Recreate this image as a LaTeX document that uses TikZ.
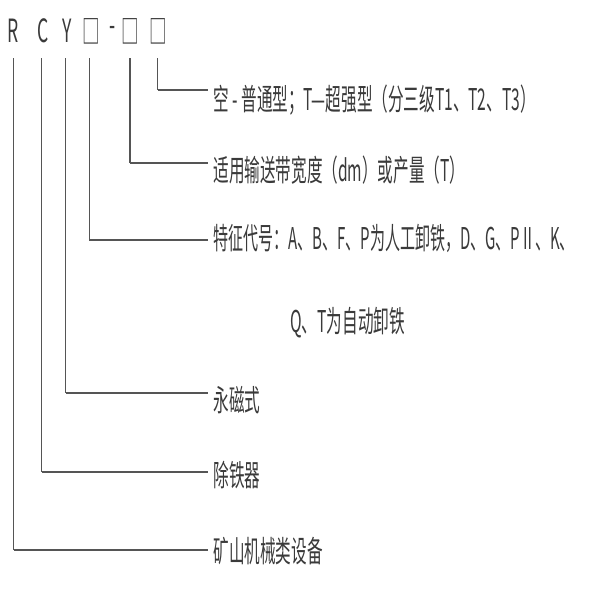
\documentclass[tikz,border=0pt]{standalone}
\usepackage{fontspec}
\newfontfamily\cjk{Noto Sans CJK SC}
\definecolor{txt}{HTML}{3A3A3A}
\definecolor{ln}{HTML}{555555}
\newcommand\sqz[2][0.52]{\scalebox{#1}[1]{#2}}
\begin{document}
\begin{tikzpicture}[x=0.5pt,y=-0.5pt,
  hd/.style={inner sep=0pt, text=txt, font=\cjk\fontsize{16}{16}\selectfont},
  lbl/.style={anchor=west, inner sep=0pt, text=txt, font=\cjk\fontsize{15}{16}\selectfont},
  vln/.style={draw=ln, line width=0.6pt},
  hln/.style={draw=ln, line width=1.1pt}]
\useasboundingbox (0,0) rectangle (600,600);
% top code
\node[hd] (R)  at (13,31)  {\sqz[0.55]{R}};
\node[hd] (C)  at (43,31)  {\sqz[0.55]{C}};
\node[hd] (Y)  at (67,31)  {\sqz[0.55]{Y}};
\node[hd] (B1) at (91,31)  {\sqz[0.55]{□}};
\node[hd] (D)  at (113,31) {\sqz[0.55]{-}};
\node[hd] (B2) at (130,31) {\sqz[0.55]{□}};
\node[hd] (B3) at (158,31) {\sqz[0.55]{□}};
% line starts
\coordinate (sR)  at (13.5,58);
\coordinate (sC)  at (41.7,58);
\coordinate (sY)  at (65.7,58);
\coordinate (sB1) at (89.3,58);
\coordinate (sB2) at (130,58);
\coordinate (sB3) at (157.7,58);
% line ends
\coordinate (e1) at (208,90);
\coordinate (e2) at (208,163);
\coordinate (e3) at (208,240);
\coordinate (e5) at (208,393);
\coordinate (e6) at (208,472);
\coordinate (e7) at (208,550);
% labels
\node[lbl] (t1) at (213,100) {\sqz{空 - 普通型；T—超强型（分三级T1、T2、T3）}};
\node[lbl] (t2) at (213,170) {\sqz{适用输送带宽度（dm）或产量（T）}};
\node[lbl] (t3) at (213,238) {\sqz[0.5]{特征代号：A、B、F、P为人工卸铁，D、G、PⅡ、K、}};
\node[lbl] (t4) at (290,323) {\sqz{Q、T为自动卸铁}};
\node[lbl] (t5) at (213,400) {\sqz{永磁式}};
\node[lbl] (t6) at (213,475) {\sqz{除铁器}};
\node[lbl] (t7) at (213,551) {\sqz{矿山机械类设备}};
% connectors
\draw[vln] (sB3) -- (sB3 |- e1);
\draw[hln] (sB3 |- e1) -- (e1);
\draw[vln] (sB2) -- (sB2 |- e2);
\draw[hln] (sB2 |- e2) -- (e2);
\draw[vln] (sB1) -- (sB1 |- e3);
\draw[hln] (sB1 |- e3) -- (e3);
\draw[vln] (sY) -- (sY |- e5);
\draw[hln] (sY |- e5) -- (e5);
\draw[vln] (sC) -- (sC |- e6);
\draw[hln] (sC |- e6) -- (e6);
\draw[vln] (sR) -- (sR |- e7);
\draw[hln] (sR |- e7) -- (e7);
\end{tikzpicture}
\end{document}
